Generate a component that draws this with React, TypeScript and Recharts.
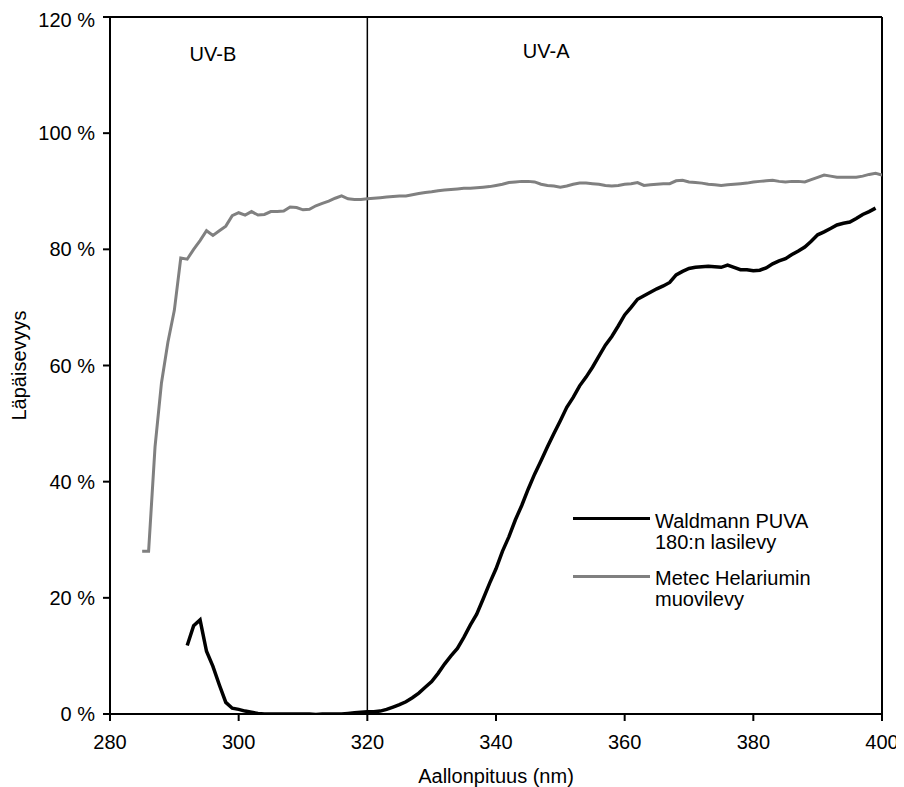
import {
  LineChart,
  Line,
  XAxis,
  YAxis,
  ReferenceLine,
  ReferenceDot,
} from 'recharts';

// wavelength grid (nm) starts for each measured series
const metecStart = 285;
const waldmannStart = 292;

const metecValues = [
  28, 28, 46, 57, 64, 69.5, 78.5, 78.3, 80, 81.5, 83.2, 82.4, 83.2, 84, 85.8, 86.3, 85.9, 86.5, 85.9, 86,
  86.5, 86.5, 86.6, 87.3, 87.2, 86.8, 86.9, 87.5, 87.9, 88.3, 88.8, 89.2, 88.7, 88.6, 88.6, 88.7, 88.8, 88.9,
  89, 89.1, 89.2, 89.2, 89.4, 89.6, 89.8, 89.9, 90.1, 90.2, 90.3, 90.4, 90.5, 90.5, 90.6, 90.7, 90.8, 91,
  91.2, 91.5, 91.6, 91.7, 91.7, 91.6, 91.2, 91, 90.9, 90.7, 90.9, 91.2, 91.4, 91.4, 91.3, 91.2, 91, 90.9,
  91, 91.2, 91.3, 91.5, 91, 91.1, 91.2, 91.3, 91.3, 91.8, 91.9, 91.6, 91.5, 91.4, 91.2, 91.1, 91, 91.1,
  91.2, 91.3, 91.4, 91.6, 91.7, 91.8, 91.9, 91.7, 91.6, 91.7, 91.7, 91.6, 92, 92.4, 92.8, 92.6, 92.4, 92.4,
  92.4, 92.4, 92.6, 92.9, 93.1, 92.8,
];

const waldmannValues = [
  11.8, 15.2, 16.2, 10.8, 8.2, 5, 2, 1, 0.8, 0.5, 0.3, 0.1, 0, 0, 0, 0, 0, 0, 0, 0, -0.1, 0, 0, 0, 0, 0.1,
  0.2, 0.3, 0.4, 0.4, 0.5, 0.8, 1.2, 1.6, 2.1, 2.8, 3.6, 4.6, 5.6, 7, 8.6, 10, 11.3, 13.2, 15.3, 17.2, 19.8,
  22.5, 25, 28, 30.5, 33.4, 35.9, 38.7, 41.3, 43.6, 46, 48.3, 50.5, 52.8, 54.5, 56.5, 58, 59.7, 61.6, 63.5,
  65, 66.8, 68.7, 70, 71.4, 72, 72.6, 73.2, 73.7, 74.3, 75.6, 76.2, 76.7, 76.9, 77, 77.1, 77, 76.9, 77.3,
  76.9, 76.5, 76.5, 76.3, 76.4, 76.8, 77.5, 78, 78.4, 79.1, 79.7, 80.4, 81.4, 82.5, 83, 83.6, 84.2, 84.5,
  84.7, 85.3, 86, 86.5, 87.1,
];

const xTicks = [280, 300, 320, 340, 360, 380, 400];
const yTicks = [0, 20, 40, 60, 80, 100, 120];

const seriesNames = ['Waldmann PUVA\n180:n lasilevy', 'Metec Helariumin\nmuovilevy'];
const seriesColors = ['#000000', '#808080'];

const metecData = metecValues.map((v, i) => ({ nm: metecStart + i, v }));
const waldmannData = waldmannValues.map((v, i) => ({ nm: waldmannStart + i, v }));

const font = '"Liberation Sans", Arial, sans-serif';
const fs = 20;

function YTitle(props: any) {
  const vb = props.viewBox;
  const x = 11;
  const y = vb.y + vb.height / 2;
  return (
    <text
      x={x}
      y={y}
      transform={`rotate(-90, ${x}, ${y})`}
      textAnchor="middle"
      dominantBaseline="central"
      fontSize={fs}
      fontFamily={font}
      fill="#000"
    >
      Läpäisevyys
    </text>
  );
}

function XTitle(props: any) {
  const vb = props.viewBox;
  return (
    <text
      x={vb.x + vb.width / 2}
      y={vb.y + 69}
      textAnchor="middle"
      fontSize={fs}
      fontFamily={font}
      fill="#000"
    >
      Aallonpituus (nm)
    </text>
  );
}

export default function App() {
  return (
    <div style={{ position: 'relative', width: 896, height: 779, fontFamily: font }}>
      <LineChart
        width={896}
        height={779}
        margin={{ top: 9, right: 22, bottom: 0, left: 0 }}
        style={{ overflow: 'visible' }}
      >
        <XAxis
          dataKey="nm"
          type="number"
          domain={[280, 400]}
          ticks={xTicks}
          allowDataOverflow
          stroke="#000"
          strokeWidth={2}
          tickSize={7}
          tickMargin={14}
          height={73}
          tick={{ fontSize: fs, fontFamily: font, fill: '#000' }}
          label={<XTitle />}
        />
        <YAxis
          type="number"
          domain={[0, 120]}
          ticks={yTicks}
          allowDataOverflow
          width={102}
          stroke="#000"
          strokeWidth={2}
          tickSize={7}
          tickMargin={8}
          tickFormatter={(v: number) => `${v} %`}
          tick={{ fontSize: fs, fontFamily: font, fill: '#000' }}
          label={<YTitle />}
        />
        {/* plot frame top & right */}
        <ReferenceLine y={120} stroke="#000" strokeWidth={2} />
        <ReferenceLine x={400} stroke="#000" strokeWidth={2} />
        {/* UV-B / UV-A boundary */}
        <ReferenceLine x={320} stroke="#000" strokeWidth={1.5} />
        <ReferenceDot
          x={296}
          y={113.6}
          r={1}
          fill="none"
          stroke="none"
          label={{ value: 'UV-B', position: 'center', fontSize: fs, fontFamily: font, fill: '#000' }}
        />
        <ReferenceDot
          x={347.8}
          y={114.2}
          r={1}
          fill="none"
          stroke="none"
          label={{ value: 'UV-A', position: 'center', fontSize: fs, fontFamily: font, fill: '#000' }}
        />
        <Line
          data={metecData}
          dataKey="v"
          type="linear"
          stroke={seriesColors[1]}
          strokeWidth={3}
          dot={false}
          isAnimationActive={false}
        />
        <Line
          data={waldmannData}
          dataKey="v"
          type="linear"
          stroke={seriesColors[0]}
          strokeWidth={3.5}
          dot={false}
          isAnimationActive={false}
        />
      </LineChart>
      <div style={{ position: 'absolute', left: 565, top: 503, fontSize: fs, lineHeight: '21px', color: '#000' }}>
        {seriesNames.map((name, i) => (
          <div key={i} style={{ display: 'flex', alignItems: 'flex-start', marginBottom: 15 }}>
            <div
              style={{
                width: 77,
                height: i === 0 ? 3.5 : 3,
                background: seriesColors[i],
                marginTop: i === 0 ? 5.5 : 7,
                marginRight: 5,
              }}
            />
            <div style={{ whiteSpace: 'pre' }}>{name}</div>
          </div>
        ))}
      </div>
    </div>
  );
}
